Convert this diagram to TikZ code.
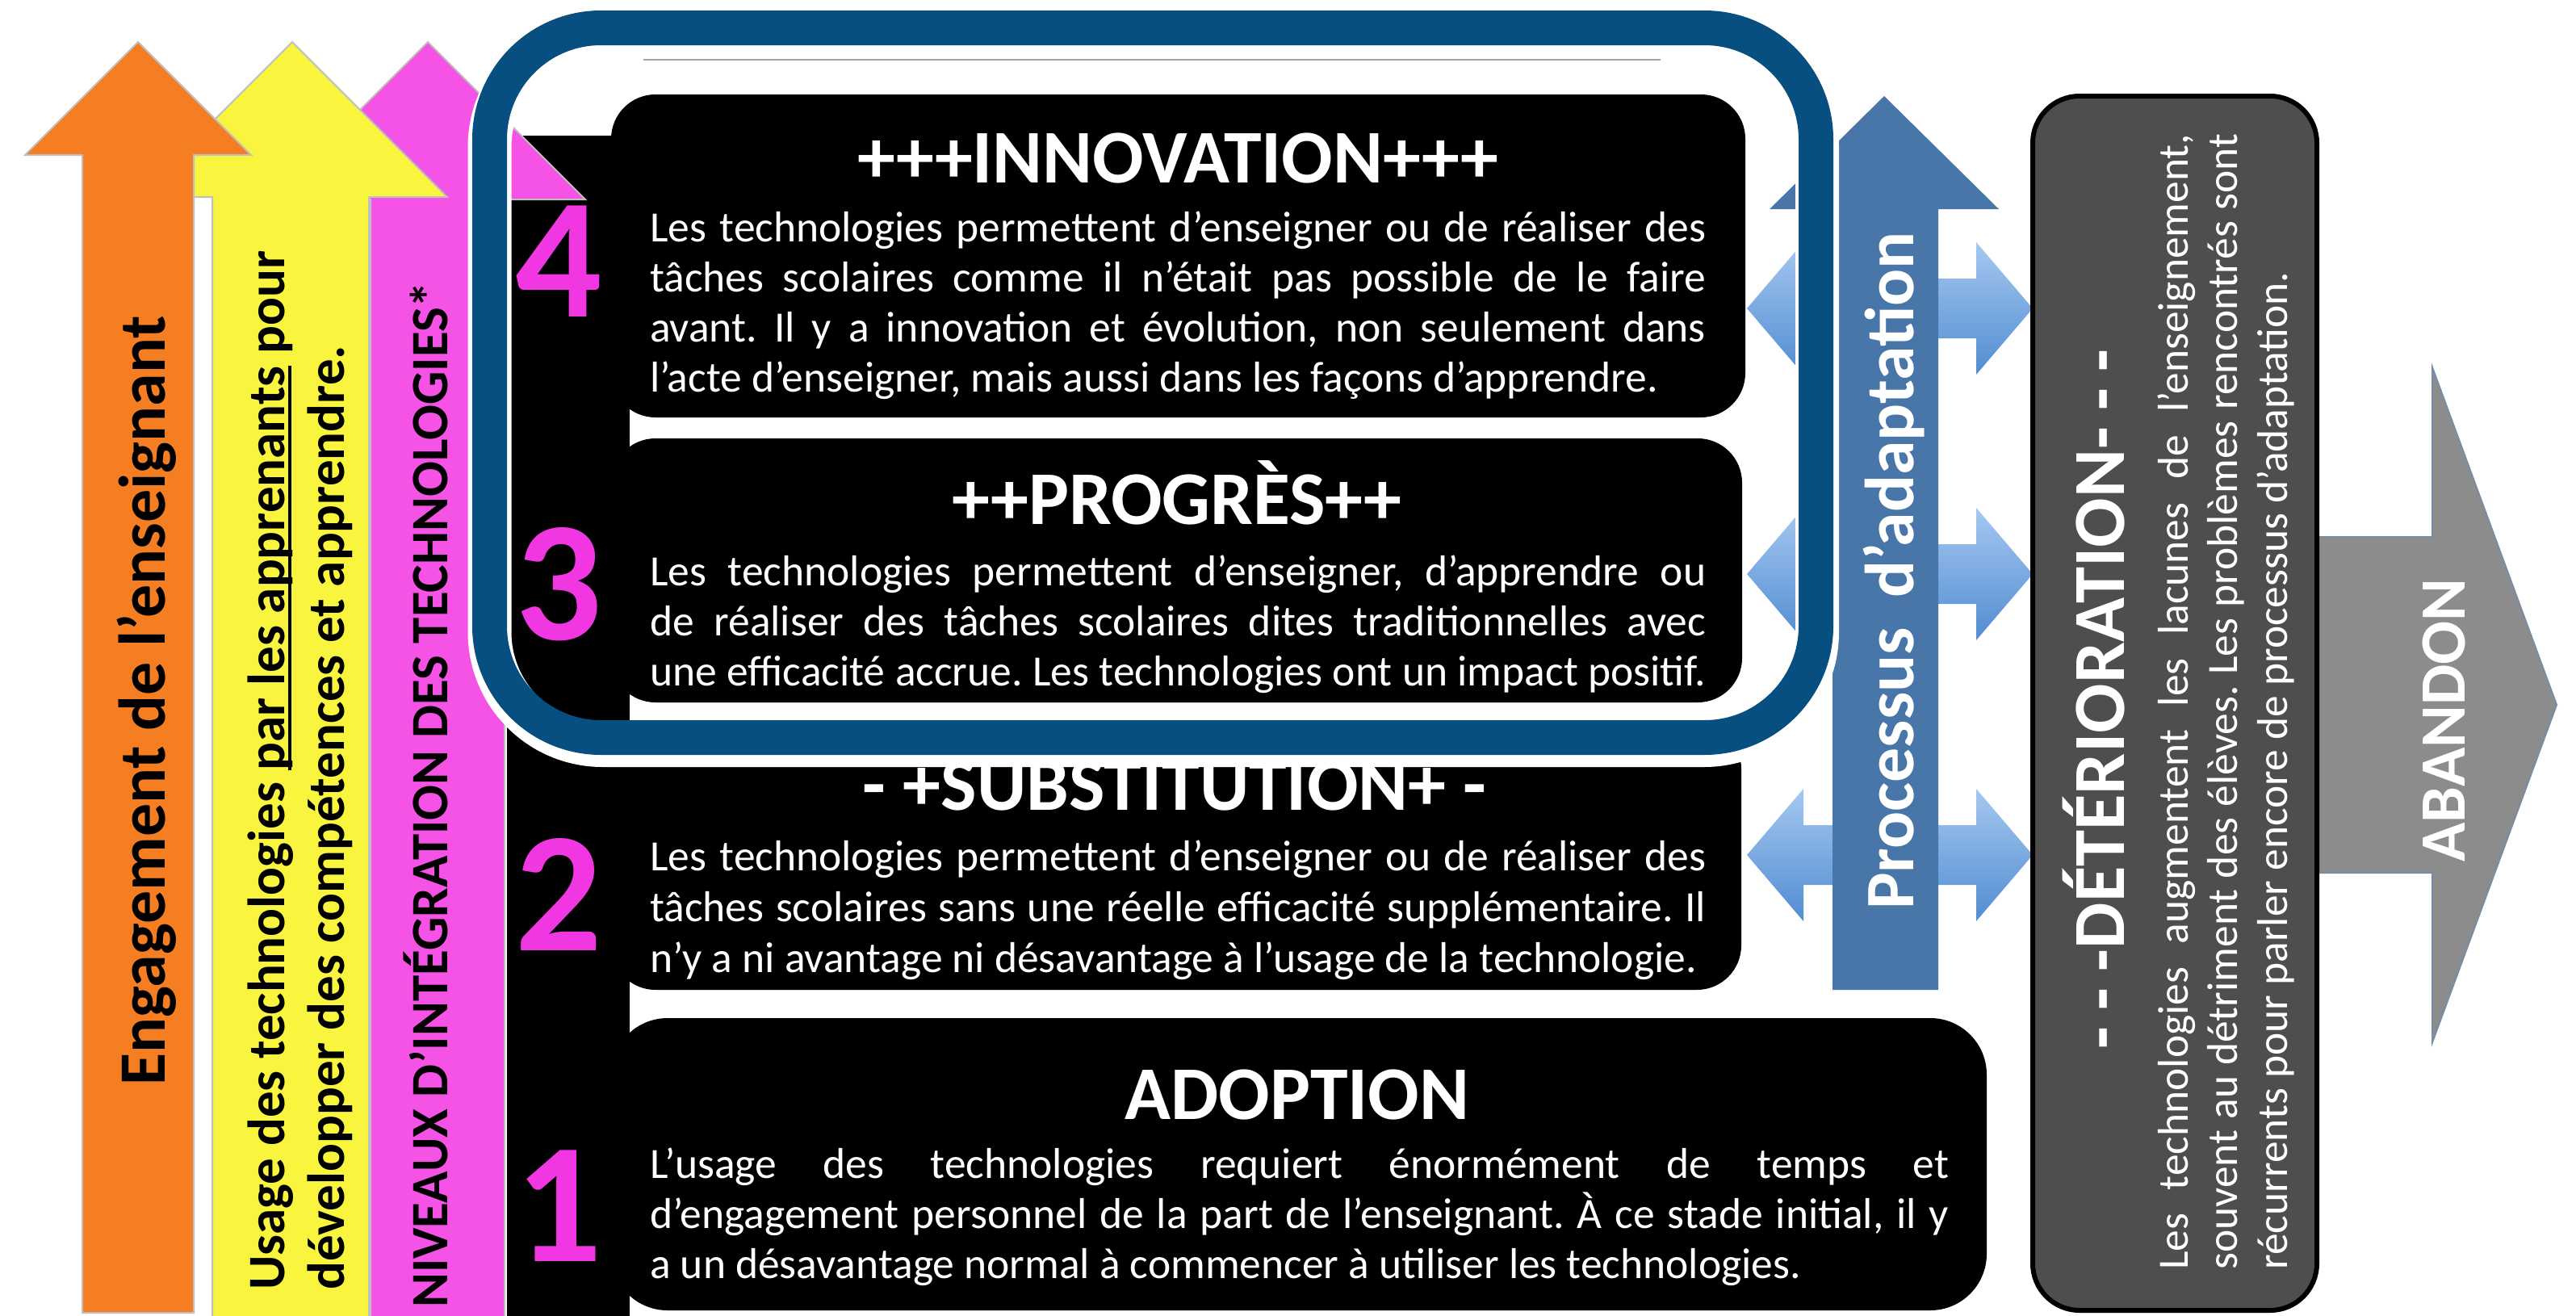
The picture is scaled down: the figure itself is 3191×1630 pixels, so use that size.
\documentclass[tikz,border=0pt]{standalone}
\usepackage{fontspec}
\setmainfont{Carlito}
\frenchspacing
\definecolor{orangeA}{RGB}{245,126,34}
\definecolor{yellowA}{RGB}{249,245,62}
\definecolor{magentaA}{RGB}{245,82,230}
\definecolor{digitM}{RGB}{240,55,225}
\definecolor{frameblue}{RGB}{6,79,128}
\definecolor{procblue}{RGB}{72,118,168}
\definecolor{lightblueT}{RGB}{165,200,240}
\definecolor{lightblueB}{RGB}{82,140,210}
\definecolor{detgray}{RGB}{78,78,78}
\definecolor{abgray}{RGB}{140,140,140}
\definecolor{abedge}{RGB}{120,140,165}
\newcommand\ulx[1]{\setbox0\hbox{#1}\rlap{\rule[-9pt]{\wd0}{4pt}}\box0\relax}
\tikzset{
  bodytxt/.style={text=white, inner sep=0pt, font=\fontsize{53.5}{62}\selectfont},
  titletxt/.style={text=white, inner sep=0pt, font=\fontsize{94}{100}\selectfont\bfseries},
  digit/.style={text=digitM, inner sep=0pt, font=\fontsize{212}{212}\selectfont\bfseries},
  vtxt/.style={rotate=90, inner sep=0pt},
  leftarrow/.style={draw=black!25, line width=2pt},
  blackbox/.style={fill=black},
}
\begin{document}
\begin{tikzpicture}[x=1pt,y=-1pt]
\useasboundingbox (0,0) rectangle (3191,1630);
\fill[white] (0,0) rectangle (3191,1630);

% black strip behind the numbers
\fill[black] (628,168) rectangle (780,1630);

% left vertical arrows
\filldraw[leftarrow, fill=magentaA] (459,1632) -- (459,247) -- (335,247) -- (530,52) -- (725,247) -- (625,247) -- (625,1632) -- cycle;
\filldraw[leftarrow, fill=yellowA] (263,1632) -- (263,244) -- (170,244) -- (362,52) -- (554,244) -- (457,244) -- (457,1632) -- cycle;
\filldraw[leftarrow, fill=orangeA] (102,1626) -- (102,192) -- (31,192) -- (171,52) -- (311,192) -- (240,192) -- (240,1626) -- cycle;

\node[vtxt, anchor=base, font=\fontsize{82}{90}\selectfont\bfseries] (eng) at (204,868) {Engagement de l’enseignant};
\node[vtxt, anchor=base west, font=\fontsize{65}{74}\selectfont\bfseries] (usa) at (352,1598) {Usage des technologies \ulx{par les apprenants} pour};
\node[vtxt, anchor=base west, font=\fontsize{65}{74}\selectfont\bfseries] (usb) at (426,1598) {développer des compétences et apprendre.};
\node[vtxt, anchor=base west, font=\fontsize{65}{74}\selectfont\bfseries] (niv) at (554,1620) {NIVEAUX D’INTÉGRATION DES TECHNOLOGIES*};

% double arrows
\foreach \c in {382,711,1059}{
  \shade[top color=lightblueT, bottom color=lightblueB]
    (2164,\c) -- (2234,\c-82) -- (2234,\c-37) -- (2448,\c-37) -- (2448,\c-82) -- (2518,\c)
    -- (2448,\c+82) -- (2448,\c+37) -- (2234,\c+37) -- (2234,\c+82) -- cycle;
}

% blue vertical arrow
\fill[procblue] (2270,1226) -- (2270,259) -- (2192,259) -- (2334,119) -- (2476,259) -- (2401,259) -- (2401,1226) -- cycle;

% black boxes
\fill[blackbox, rounded corners=55pt] (757,117) rectangle (2162,517);
\fill[blackbox, rounded corners=55pt] (757,543) rectangle (2158,870);
\fill[blackbox, rounded corners=55pt] (757,897) rectangle (2157,1226);
\fill[blackbox, rounded corners=70pt] (757,1261) rectangle (2461,1623);

% digits
\node[digit, anchor=base] (n4) at (692,392) {4};
\node[digit, anchor=base] (n3) at (692,792) {3};
\node[digit, anchor=base] (n2) at (692,1177) {2};
\node[digit, anchor=base] (n1) at (692,1562) {1};

% titles
\node[titletxt, anchor=base] (t4) at (1459,226) {+++INNOVATION+++};
\node[titletxt, anchor=base] (t3) at (1458,649) {++PROGRÈS++};
\node[titletxt, anchor=base] (t2) at (1455,1003) {- +SUBSTITUTION+ -};
\node[titletxt, anchor=base] (t1) at (1607,1386) {ADOPTION};

% body texts box 4
\node[bodytxt, anchor=base west] (b4a) at (805,299) {\makebox[1308pt][s]{Les technologies permettent d’enseigner ou de réaliser des}};
\node[bodytxt, anchor=base west] (b4b) at (805,361) {\makebox[1308pt][s]{tâches scolaires comme il n’était pas possible de le faire}};
\node[bodytxt, anchor=base west] (b4c) at (805,423) {\makebox[1308pt][s]{avant. Il y a innovation et évolution, non seulement dans}};
\node[bodytxt, anchor=base west] (b4d) at (805,485) {l’acte d’enseigner, mais aussi dans les façons d’apprendre.};
% box 3
\node[bodytxt, anchor=base west] (b3a) at (805,725) {\makebox[1308pt][s]{Les technologies permettent d’enseigner, d’apprendre ou}};
\node[bodytxt, anchor=base west] (b3b) at (805,787) {\makebox[1308pt][s]{de réaliser des tâches scolaires dites traditionnelles avec}};
\node[bodytxt, anchor=base west] (b3c) at (805,849) {\makebox[1308pt][s]{une efficacité accrue. Les technologies ont un impact positif.}};
% box 2
\node[bodytxt, anchor=base west] (b2a) at (805,1078) {\makebox[1308pt][s]{Les technologies permettent d’enseigner ou de réaliser des}};
\node[bodytxt, anchor=base west] (b2b) at (805,1141) {\makebox[1308pt][s]{tâches scolaires sans une réelle efficacité supplémentaire. Il}};
\node[bodytxt, anchor=base west] (b2c) at (805,1204) {n’y a ni avantage ni désavantage à l’usage de la technologie.};
% box 1
\node[bodytxt, anchor=base west] (b1a) at (805,1459) {\makebox[1609pt][s]{L’usage des technologies requiert énormément de temps et}};
\node[bodytxt, anchor=base west] (b1b) at (805,1521) {\makebox[1609pt][s]{d’engagement personnel de la part de l’enseignant. À ce stade initial, il y}};
\node[bodytxt, anchor=base west] (b1c) at (805,1583) {a un désavantage normal à commencer à utiliser les technologies.};

% ABANDON arrow
\filldraw[fill=abgray, draw=abedge, line width=2pt] (2860,665) -- (3013,665) -- (3013,455) -- (3167,873) -- (3013,1291) -- (3013,1081) -- (2860,1081) -- cycle;

% deterioration box
\filldraw[fill=detgray, draw=black, line width=6pt, rounded corners=58pt] (2518,119) rectangle (2870,1623);

% frame
\draw[white, line width=54pt, rounded corners=140pt] (606.5,42) rectangle (2251,923);
\draw[frameblue, line width=43pt, rounded corners=138pt] (606.5,34.5) rectangle (2249.5,913.5);
\draw[black!35, line width=1.5pt] (797,74) -- (2057,74);

% right side texts
\node[vtxt, anchor=base, text=white, font=\fontsize{86}{90}\selectfont\bfseries] (proc) at (2370,707) {Processus\hspace{0.2em} d’adaptation};
\node[vtxt, anchor=base, text=white, font=\fontsize{91}{95}\selectfont\bfseries] (det) at (2631,866) {- - -DÉTÉRIORATION- - -};
\node[vtxt, anchor=base west, text=white, font=\fontsize{53.5}{62}\selectfont] (da) at (2710,1573) {\makebox[1407pt][s]{Les technologies augmentent les lacunes de l’enseignement,}};
\node[vtxt, anchor=base west, text=white, font=\fontsize{53.5}{62}\selectfont] (db) at (2771,1573) {\makebox[1407pt][s]{souvent au détriment des élèves. Les problèmes rencontrés sont}};
\node[vtxt, anchor=base west, text=white, font=\fontsize{53.5}{62}\selectfont] (dc) at (2833,1573) {récurrents pour parler encore de processus d’adaptation.};
\node[vtxt, anchor=base, text=white, font=\fontsize{80}{85}\selectfont\bfseries] (ab) at (3053,892) {ABANDON};
\end{tikzpicture}
\end{document}
